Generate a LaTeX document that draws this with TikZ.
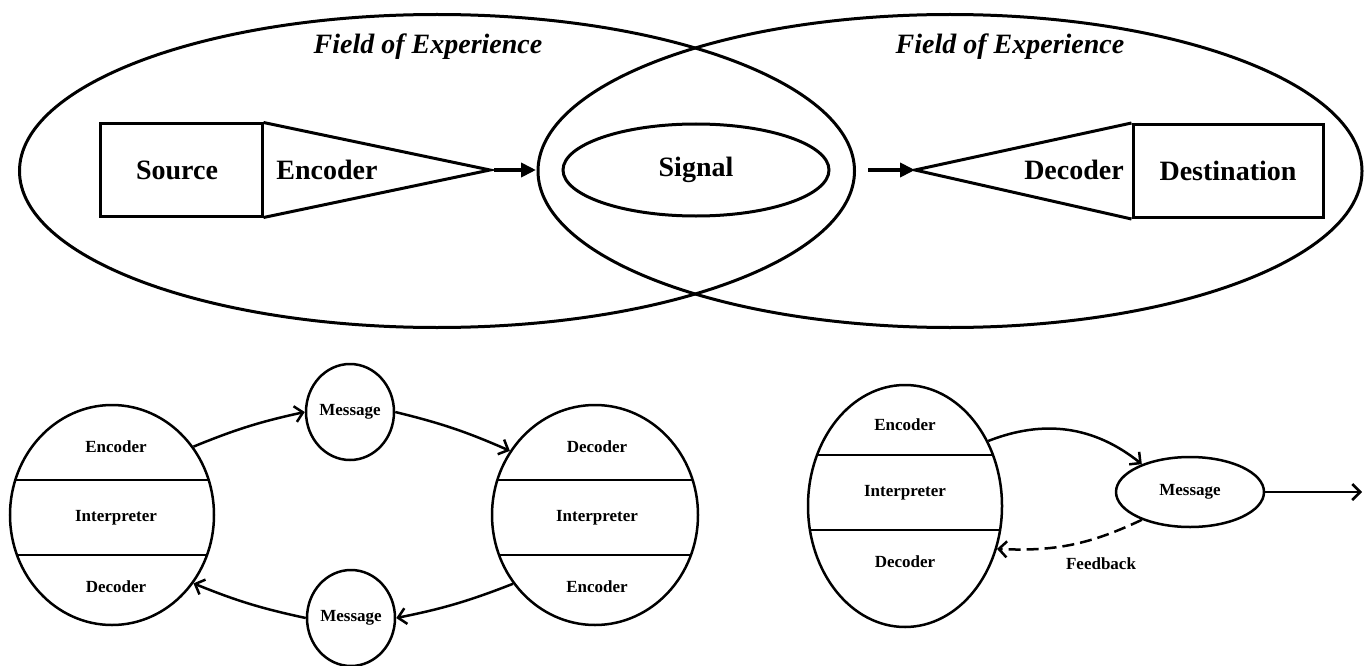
\documentclass[tikz,border=0pt]{standalone}
\usepackage{fontspec}
\setmainfont{Liberation Serif}
\usepackage{tikz}
\usetikzlibrary{arrows,arrows.meta,shapes.geometric}

\tikzset{
  field/.style={draw,ellipse,line width=3pt,inner sep=0pt},
  part/.style={draw,line width=3pt,inner sep=0pt},
  bubble/.style={draw,ellipse,line width=2.5pt,inner sep=0pt},
  big/.style={font=\fontsize{28}{30}\selectfont\bfseries},
  fieldtext/.style={font=\fontsize{28}{30}\selectfont\bfseries\itshape},
  small/.style={font=\fontsize{17}{19}\selectfont\bfseries},
  flow/.style={line width=4pt,-{Triangle[length=15pt,width=14pt]}},
  pass/.style={line width=2.5pt,-{Straight Barb[length=8pt,width=16pt]}},
}

\begin{document}
\begin{tikzpicture}[x=1pt,y=-1pt]
\useasboundingbox (0,0) rectangle (1367,666);

% fields of experience
\node[field,minimum width=835,minimum height=313] (fieldA) at (437,171) {};
\node[field,minimum width=824,minimum height=313] (fieldB) at (950,171) {};
\node[fieldtext] (fieldAtext) at (428,47) {Field of Experience};
\node[fieldtext] (fieldBtext) at (1010,47) {Field of Experience};

% sender side
\node[part,minimum width=162,minimum height=92] (src) at (181,170) {};
\node[big] (srcText) at (177,170) {Source};
\coordinate (encTip) at (490,170);
\draw[part] (src.north east) -- (encTip) -- (src.south east);
\node[big] (enc) at (327,170) {Encoder};
\coordinate (sendStart) at (494,170);
\coordinate (sendEnd) at (536,170);
\draw[flow] (sendStart) -- (sendEnd);

\node[field,big,minimum width=266,minimum height=92] (sig) at (696,170) {Signal};

% receiver side
\coordinate (recvStart) at (868,170);
\coordinate (decTip) at (915,170);
\draw[flow] (recvStart) -- (decTip);
\node[part,big,minimum width=190,minimum height=93] (dst) at (1228,171) {Destination};
\draw[part] (dst.north west) -- (decTip) -- (dst.south west);
\node[big] (dec) at (1074,170) {Decoder};

% two-way model
\node[bubble,minimum width=204,minimum height=220] (pA) at (112,515) {};
\node[bubble,minimum width=206,minimum height=220] (pB) at (595,515) {};
\begin{scope}
  \clip (112,515) ellipse (102 and 110);
  \draw[line width=2.5pt] (0,480) -- (230,480);
  \draw[line width=2.5pt] (0,555) -- (230,555);
\end{scope}
\begin{scope}
  \clip (595,515) ellipse (103 and 110);
  \draw[line width=2.5pt] (480,480) -- (710,480);
  \draw[line width=2.5pt] (480,555) -- (710,555);
\end{scope}
\node[small] (pAenc) at (116,447) {Encoder};
\node[small] (pAint) at (116,518) {Interpreter};
\node[small] (pAdec) at (116,587) {Decoder};
\node[small] (pBdec) at (597,447) {Decoder};
\node[small] (pBint) at (597,518) {Interpreter};
\node[small] (pBenc) at (597,587) {Encoder};

\node[bubble,small,minimum width=88,minimum height=96] (mA) at (350,412) {Message};
\node[bubble,small,minimum width=88,minimum height=96] (mB) at (351,618) {Message};

\draw[pass] (pA.40) to[bend left=5] (mA.west);
\draw[pass] (mA.east) to[bend left=5] (pB.143);
\draw[pass] (pB.220) to[bend left=5] (mB.east);
\draw[pass] (mB.west) to[bend left=5] (pA.-40);

% feedback model
\node[bubble,minimum width=194,minimum height=242] (pC) at (905,506) {};
\begin{scope}
  \clip (905,506) ellipse (97 and 121);
  \draw[line width=2.5pt] (800,455) -- (1010,455);
  \draw[line width=2.5pt] (800,530) -- (1010,530);
\end{scope}
\node[small] (pCenc) at (905,425) {Encoder};
\node[small] (pCint) at (905,493) {Interpreter};
\node[small] (pCdec) at (905,562) {Decoder};

\node[bubble,small,minimum width=148,minimum height=70] (mC) at (1190,492) {Message};
\coordinate (out) at (1362,492);
\draw[pass] (pC.38) to[bend left=30] (mC.150);
\draw[pass] (mC.east) -- (out);
\draw[pass,dash pattern=on 12pt off 6pt] (mC.210) to[bend left=14] (pC.-25);
\node[small] (fb) at (1101,564) {Feedback};

\end{tikzpicture}
\end{document}
